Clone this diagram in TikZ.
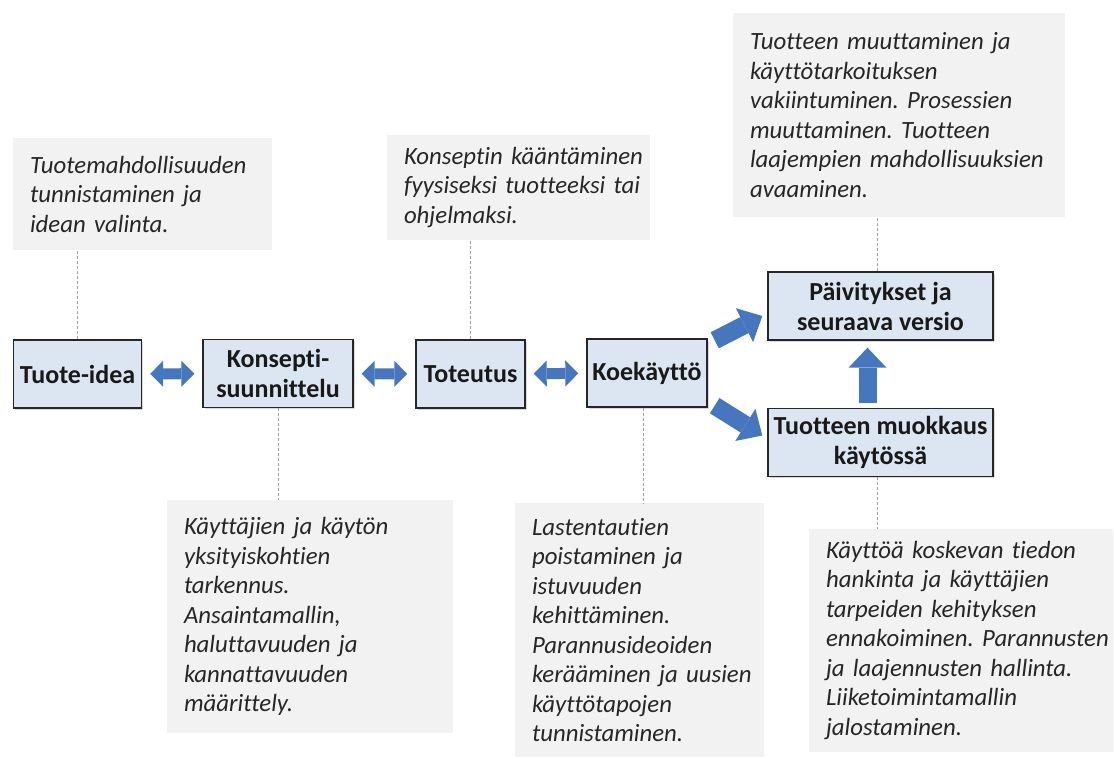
\documentclass[tikz,border=0pt]{standalone}
\usepackage{fontspec}
\setmainfont{Carlito}[Ligatures=NoCommon]
\usepackage{tikz}
\usetikzlibrary{arrows.meta,calc,shadows}
\usepackage{xcolor}
\definecolor{phasefill}{RGB}{220,230,242}
\definecolor{notegray}{RGB}{242,242,242}
\definecolor{arrowblue}{RGB}{70,118,190}
\definecolor{leadgray}{RGB}{160,160,160}
\hyphenpenalty=10000
\exhyphenpenalty=10000
\frenchspacing
\tikzset{
    phase/.style={
        draw=black!85,line width=1.4pt,fill=phasefill,
        minimum height=68pt,inner sep=2pt,align=center,
        font=\fontsize{26}{30}\selectfont\bfseries,text=black!90,
        drop shadow={shadow xshift=1.5pt,shadow yshift=-1.5pt,opacity=.3}
    },
    note/.style={
        fill=notegray,inner xsep=17pt,inner ysep=0pt,align=left,
        font=\fontsize{24.8}{29.5}\selectfont\itshape,text=black!85
    },
    lead/.style={
        draw=leadgray,line width=0.8pt,dash pattern=on 3pt off 2pt
    },
    duo/.style={
        line width=11pt,draw=arrowblue,
        {Triangle[length=13pt,width=26pt,line width=0pt]}-{Triangle[length=13pt,width=26pt,line width=0pt]},
        shorten <=8pt,shorten >=8pt
    },
    fat/.style={
        line width=18pt,draw=arrowblue,
        -{Triangle[length=20pt,width=38pt,line width=0pt]}
    }
}

\begin{document}
\begin{tikzpicture}[x=1pt,y=-1pt]
\useasboundingbox (0,0) rectangle (1114,758);

% phases
\node[phase,minimum width=128pt] (idea) at (77.5,374) {Tuote-idea};
\node[phase,minimum width=150pt] (konsepti) at (278,373.5) {Konsepti-\\suunnittelu};
\node[phase,minimum width=109pt] (toteutus) at (470.5,374) {Toteutus};
\node[phase,minimum width=120pt] (koe) at (647,373) {Koekäyttö};
\node[phase,minimum width=225pt] (paiv) at (880.5,306) {Päivitykset ja\\seuraava versio};
\node[phase,minimum width=225pt] (muok) at (880.5,442.5) {Tuotteen muokkaus\\käytössä};

% notes
\node[note,text width=225pt,minimum height=112pt] (n1) at (142.5,194)
{Tuotemahdollisuuden\\tunnistaminen ja\\idean valinta.};
\node[note,text width=229pt,minimum height=105pt] (n3) at (518.5,187.5)
{Konseptin~kääntäminen\\fyysiseksi~tuotteeksi~tai\\ohjelmaksi.};
\node[note,text width=298pt,minimum height=204pt] (n5) at (899,115)
{Tuotteen muuttaminen ja\\käyttötarkoituksen\\vakiintuminen. Prosessien\\muuttaminen. Tuotteen\\laajempien~mahdollisuuksien\\avaaminen.};
\node[note,text width=252pt,minimum height=233pt] (n2) at (310,616.5)
{Käyttäjien ja käytön\\yksityiskohtien\\tarkennus.\\Ansaintamallin,\\haluttavuuden ja\\kannattavuuden\\määrittely.};
\node[note,text width=215pt,minimum height=254pt] (n4) at (639.5,630)
{Lastentautien\\poistaminen ja\\istuvuuden\\kehittäminen.\\Parannusideoiden\\kerääminen~ja~uusien\\käyttötapojen\\tunnistaminen.};
\node[note,text width=270pt,minimum height=223pt] (n6) at (961,640.5)
{Käyttöä koskevan tiedon\\hankinta ja käyttäjien\\tarpeiden kehityksen\\ennakoiminen.~Parannusten\\ja laajennusten hallinta.\\Liiketoimintamallin\\jalostaminen.};

% leads
\draw[lead] (idea.north) -- (idea.north |- n1.south);
\draw[lead] (konsepti.south) -- (konsepti.south |- n2.north);
\draw[lead] (toteutus.north) -- (toteutus.north |- n3.south);
\draw[lead] ([xshift=-4pt]koe.south) -- ([xshift=-4pt]koe.south |- n4.north);
\draw[lead] ([xshift=-3pt]paiv.north) -- ([xshift=-3pt]paiv.north |- n5.south);
\draw[lead] ([xshift=-3pt]muok.south) -- ([xshift=-3pt]muok.south |- n6.north);

% arrows
\draw[duo] (idea) -- (konsepti);
\draw[duo] (konsepti) -- (toteutus);
\draw[duo] (toteutus) -- (koe);
\draw[fat] ($(koe.north east)+(7,2)$) -- ($(paiv.west)+(-5,10)$);
\draw[fat] ($(koe.south east)+(7,-2)$) -- ($(muok.west)+(-5,-7)$);
\draw[fat,shorten <=5pt,shorten >=7pt] ([xshift=-13pt]muok.north) -- ([xshift=-13pt]paiv.south);

\end{tikzpicture}
\end{document}
